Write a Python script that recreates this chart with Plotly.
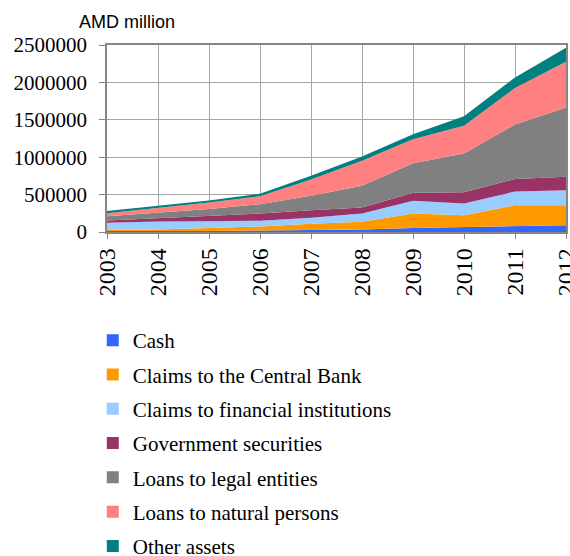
import plotly.graph_objects as go

years = ["2003", "2004", "2005", "2006", "2007", "2008", "2009", "2010", "2011", "2012"]
cash = [12000, 10000, 12000, 20000, 25000, 35000, 55000, 67000, 83000, 89000]
central_bank = [18000, 25000, 43000, 55000, 85000, 101000, 191000, 156000, 274000, 268000]
financial_inst = [92000, 105000, 90000, 77000, 80000, 110000, 172000, 157000, 185000, 201000]
gov_securities = [33000, 43000, 69000, 96000, 100000, 80000, 107000, 152000, 168000, 179000]
legal_entities = [57000, 79000, 94000, 124000, 195000, 292000, 393000, 517000, 727000, 928000]
natural_persons = [40000, 58000, 86000, 106000, 218000, 335000, 321000, 371000, 488000, 612000]
other_assets = [30000, 27000, 28000, 32000, 49000, 57000, 67000, 129000, 142000, 187000]

series_names = ["Cash", "Claims to the Central Bank", "Claims to financial institutions",
                "Government securities", "Loans to legal entities", "Loans to natural persons",
                "Other assets"]
series_values = [cash, central_bank, financial_inst, gov_securities, legal_entities,
                 natural_persons, other_assets]
colors = ["#3366FF", "#FF9900", "#99CCFF", "#993366", "#808080", "#FF8080", "#008080"]
y_ticks = [0, 500000, 1000000, 1500000, 2000000, 2500000]
y_tick_labels = ["0", "500000", "1000000", "1500000", "2000000", "2500000"]

SPAN = "<span style='font-family:Liberation Serif'>%s</span>"

fig = go.Figure()
for name, vals, col in zip(series_names, series_values, colors):
    fig.add_trace(go.Scatter(
        x=years, y=vals, name=name, stackgroup="one", mode="lines",
        line=dict(width=0, color=col), fillcolor=col, showlegend=False,
        hoverinfo="x+y+name"))
for i, (name, col) in enumerate(zip(series_names, colors)):
    fig.add_trace(go.Scatter(
        x=[None], y=[None], name=name, mode="markers",
        marker=dict(symbol="square", size=12, color=col),
        legendgroup="g%d" % i, showlegend=True))

fig.update_layout(
    width=570, height=556,
    margin=dict(l=107, r=4, t=45, b=324, autoexpand=False),
    paper_bgcolor="white", plot_bgcolor="white",
    font=dict(family="Liberation Serif", size=20, color="black"),
    showlegend=True,
    legend=dict(x=-0.031, y=-0.4706, xanchor="left", yanchor="top",
                font=dict(family="Liberation Serif", size=21, color="black"),
                itemwidth=30, tracegroupgap=4, bgcolor="rgba(0,0,0,0)"),
    xaxis=dict(type="category", range=[0, 9], showgrid=True, gridcolor="#A6A6A6",
               gridwidth=1, showline=True, linecolor="#868686", linewidth=1.5,
               mirror=True, ticks="outside", ticklen=5, tickcolor="#868686",
               tickangle=-90, automargin=False,
               tickvals=years, ticktext=[SPAN % y for y in years],
               tickfont=dict(family="Liberation Serif", size=24, color="black")),
    yaxis=dict(range=[0, 2500000], tickvals=y_ticks,
               ticktext=[SPAN % t for t in y_tick_labels],
               showgrid=True, gridcolor="#A6A6A6", gridwidth=1,
               showline=True, linecolor="#868686", linewidth=1.5, mirror=True,
               ticks="outside", ticklen=6, tickcolor="#868686", automargin=False,
               zeroline=False, ticklabelstandoff=8,
               tickfont=dict(family="Liberation Serif", size=21, color="black")),
    annotations=[dict(text="AMD million", xref="paper", yref="paper",
                      x=-0.066, y=1.125, xanchor="left", yanchor="middle",
                      showarrow=False,
                      font=dict(family="Liberation Sans", size=18, color="black"))],
)

fig.write_html("out.html")
